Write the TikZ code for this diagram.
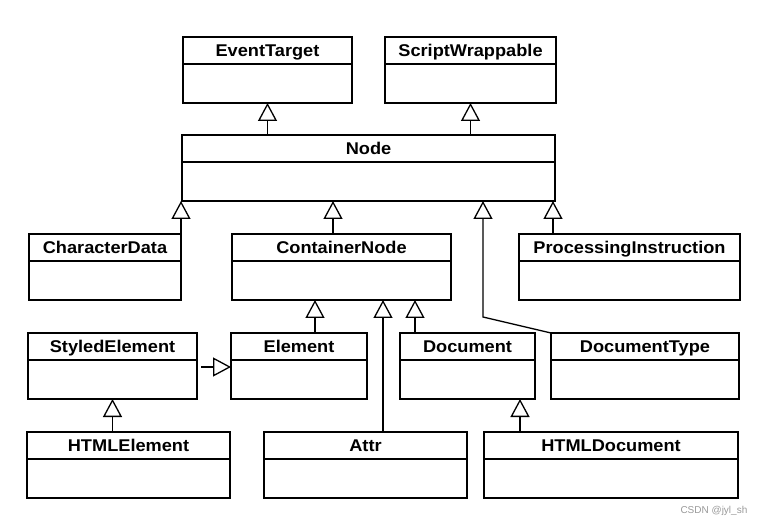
\documentclass[tikz,border=0pt]{standalone}
\usepackage{fontspec}
\usepackage{tikz}
\usetikzlibrary{arrows.meta,positioning}
\newfontfamily\umlfont{Liberation Sans}[FakeStretch=1.07]
\setsansfont{Liberation Sans}

\begin{document}
\begin{tikzpicture}[x=1pt,y=1pt,line width=1.3pt,
  cls/.style={draw,anchor=north west,inner sep=0pt,outer sep=0pt,minimum height=27pt,minimum width=#1,
    font=\umlfont\bfseries\fontsize{17}{17}\selectfont,text height=12.2pt,text depth=0pt},
  clsbody/.style={draw,inner sep=0pt,outer sep=0pt,minimum height=39pt,minimum width=#1},
  inh/.style={-{Triangle[open,length=18pt,width=19pt]}}]
\useasboundingbox (0,0) rectangle (763,-526);
\node [cls=169pt] (evt) at (183,-37) {EventTarget};
\node [clsbody=169pt,below=0pt of evt] (evtb) {};
\node [cls=171pt] (scr) at (385,-37) {ScriptWrappable};
\node [clsbody=171pt,below=0pt of scr] (scrb) {};
\node [cls=373pt] (nodet) at (182,-135) {Node};
\node [clsbody=373pt,below=0pt of nodet] (nodeb) {};
\node [cls=152pt] (chrt) at (29,-234) {CharacterData};
\node [clsbody=152pt,below=0pt of chrt] (chrb) {};
\node [cls=219pt] (ctnt) at (232,-234) {ContainerNode};
\node [clsbody=219pt,below=0pt of ctnt] (ctnb) {};
\node [cls=221pt] (pint) at (519,-234) {ProcessingInstruction};
\node [clsbody=221pt,below=0pt of pint] (pinb) {};
\node [cls=169pt] (styt) at (28,-333) {StyledElement};
\node [clsbody=169pt,below=0pt of styt] (styb) {};
\node [cls=136pt] (elmt) at (231,-333) {Element};
\node [clsbody=136pt,below=0pt of elmt] (elmb) {};
\node [cls=135pt] (doct) at (400,-333) {Document};
\node [clsbody=135pt,below=0pt of doct] (docb) {};
\node [cls=188pt] (dtyt) at (551,-333) {DocumentType};
\node [clsbody=188pt,below=0pt of dtyt] (dtyb) {};
\node [cls=203pt] (htmt) at (27,-432) {HTMLElement};
\node [clsbody=203pt,below=0pt of htmt] (htmb) {};
\node [cls=203pt] (atrt) at (264,-432) {Attr};
\node [clsbody=203pt,below=0pt of atrt] (atrb) {};
\node [cls=254pt] (htdt) at (484,-432) {HTMLDocument};
\node [clsbody=254pt,below=0pt of htdt] (htdb) {};
\node [anchor=base east,inner sep=0pt,font=\sffamily\fontsize{10}{10}\selectfont,text=gray!80] (mark) at (748,-513) {CSDN @jyl\_sh};
\draw [inh] (nodet.north -| evtb.south) -- (evtb.south);
\draw [inh] (nodet.north -| scrb.south) -- (scrb.south);
\draw [inh] (chrt.north east) -- (chrt.north east |- nodeb.south);
\coordinate (upctn) at ([xshift=151pt]nodeb.south west);
\draw [inh] (upctn |- ctnt.north) -- (upctn);
\coordinate (dtybend) at ([xshift=-68pt,yshift=16pt]dtyt.north west);
\draw [inh] (dtyt.north west) -- (dtybend) -- (dtybend |- nodeb.south);
\coordinate (uppin) at ([xshift=-2pt]nodeb.south east);
\draw [inh] (uppin |- pint.north) -- (uppin);
\coordinate (upelm) at ([xshift=83pt]ctnb.south west);
\draw [inh] (upelm |- elmt.north) -- (upelm);
\coordinate (upatr) at ([xshift=151pt]ctnb.south west);
\draw [inh] (upatr |- atrt.north) -- (upatr);
\coordinate (updoc) at ([xshift=183pt]ctnb.south west);
\draw [inh] (updoc |- doct.north) -- (updoc);
\coordinate (upsty) at ([yshift=-7pt]elmb.north west);
\draw [inh,shorten <=4pt] (upsty -| styb.east) -- (upsty);
\draw [inh] (styb.south |- htmt.north) -- (styb.south);
\coordinate (uphtd) at ([xshift=-15pt]docb.south east);
\draw [inh] (uphtd |- htdt.north) -- (uphtd);
\end{tikzpicture}
\end{document}
